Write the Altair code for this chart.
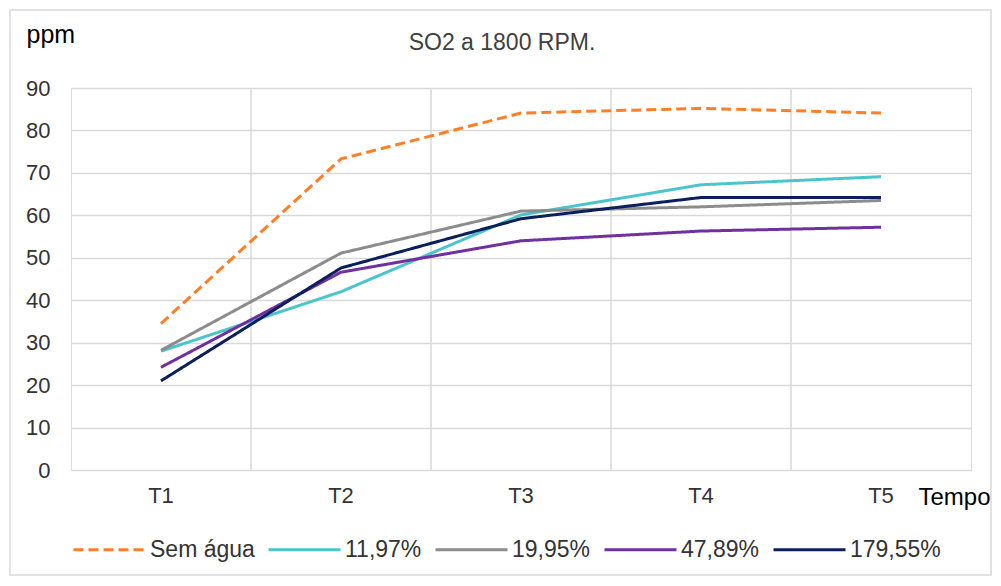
import altair as alt
import pandas as pd

times = ["T1", "T2", "T3", "T4", "T5"]
series_names = ["Sem água", "11,97%", "19,95%", "47,89%", "179,55%"]
sem_agua = [34.5, 73.3, 84.1, 85.2, 84.1]
s1197 = [28.0, 42.0, 60.1, 67.2, 69.1]
s1995 = [28.2, 51.1, 61.0, 62.0, 63.5]
s4789 = [24.2, 46.6, 54.0, 56.3, 57.2]
s17955 = [21.0, 47.6, 59.2, 64.2, 64.2]
colors = ["#FF7F27", "#4BC4CC", "#8C8C8C", "#7030A0", "#0B1F5C"]
dashes = [[10, 5], [1, 0], [1, 0], [1, 0], [1, 0]]

rows = []
for name, vals in zip(series_names, [sem_agua, s1197, s1995, s4789, s17955]):
    for t, v in zip(times, vals):
        rows.append({"t": t, "v": v, "s": name})
df = pd.DataFrame(rows)
grid_df = pd.DataFrame({"t": times[1:]})

FONT = "Liberation Sans"
LBL = "#333333"

xscale = alt.Scale(domain=times, paddingInner=0, paddingOuter=0)

lines = alt.Chart(df).mark_line(strokeWidth=3).encode(
    x=alt.X("t:N", scale=xscale, bandPosition=0.5, sort=times,
            axis=alt.Axis(title="Tempo", labelAngle=0, labelAlign="center", bandPosition=0.5,
                          domain=False, ticks=False, grid=False,
                          labelFontSize=22, labelFont=FONT, labelColor=LBL, labelPadding=25,
                          titleFont=FONT, titleFontSize=24, titleFontWeight="normal", titleColor="#000000",
                          titleAngle=0, titleAlign="left", titleBaseline="alphabetic",
                          titleX=847, titleY=34)),
    y=alt.Y("v:Q", scale=alt.Scale(domain=[0, 90], nice=False),
            axis=alt.Axis(title="ppm", values=list(range(0, 91, 10)), domain=False, ticks=False,
                          gridColor="#d9d9d9", gridWidth=1.5,
                          labelFontSize=22, labelFont=FONT, labelColor=LBL, labelPadding=21,
                          titleFont=FONT, titleFontSize=25, titleFontWeight="normal", titleColor="#000000",
                          titleAngle=0, titleAlign="left", titleBaseline="alphabetic",
                          titleX=-45, titleY=-46)),
    color=alt.Color("s:N", scale=alt.Scale(domain=series_names, range=colors), sort=series_names,
                    legend=alt.Legend(title=None, orient="none", direction="horizontal",
                                      legendX=1, legendY=424, symbolType="stroke",
                                      symbolSize=5184, symbolStrokeWidth=3, padding=0,
                                      labelFont=FONT, labelFontSize=23, labelColor=LBL,
                                      columnPadding=7, labelOffset=3)),
    strokeDash=alt.StrokeDash("s:N", scale=alt.Scale(domain=series_names, range=dashes),
                              sort=series_names, legend=None),
)

grid = alt.Chart(grid_df).mark_rule(color="#d9d9d9", strokeWidth=1.5).encode(
    x=alt.X("t:N", scale=xscale, bandPosition=0, sort=times),
)

border = alt.Chart(pd.DataFrame({"a": [0]})).mark_rect(
    fill=None, stroke="#d9d9d9", strokeWidth=1.5
).encode(x=alt.value(-61), x2=alt.value(920), y=alt.value(-78), y2=alt.value(106 + 382 - 1))

title = alt.Chart(pd.DataFrame({"a": [0]})).mark_text(
    text="SO2 a 1800 RPM.", font=FONT, fontSize=23, color="#404040", align="center", baseline="alphabetic"
).encode(x=alt.value(431), y=alt.value(-38))

chart = alt.layer(border, grid, lines, title).properties(
    width=900, height=382,
    autosize=alt.AutoSizeParams(type="none"),
    padding={"left": 63, "top": 80, "right": 22, "bottom": 108},
).configure_view(stroke="#d9d9d9", strokeWidth=1.5).configure(background="white")

chart.save("out.html", embed_options={"renderer": "svg", "actions": False})
